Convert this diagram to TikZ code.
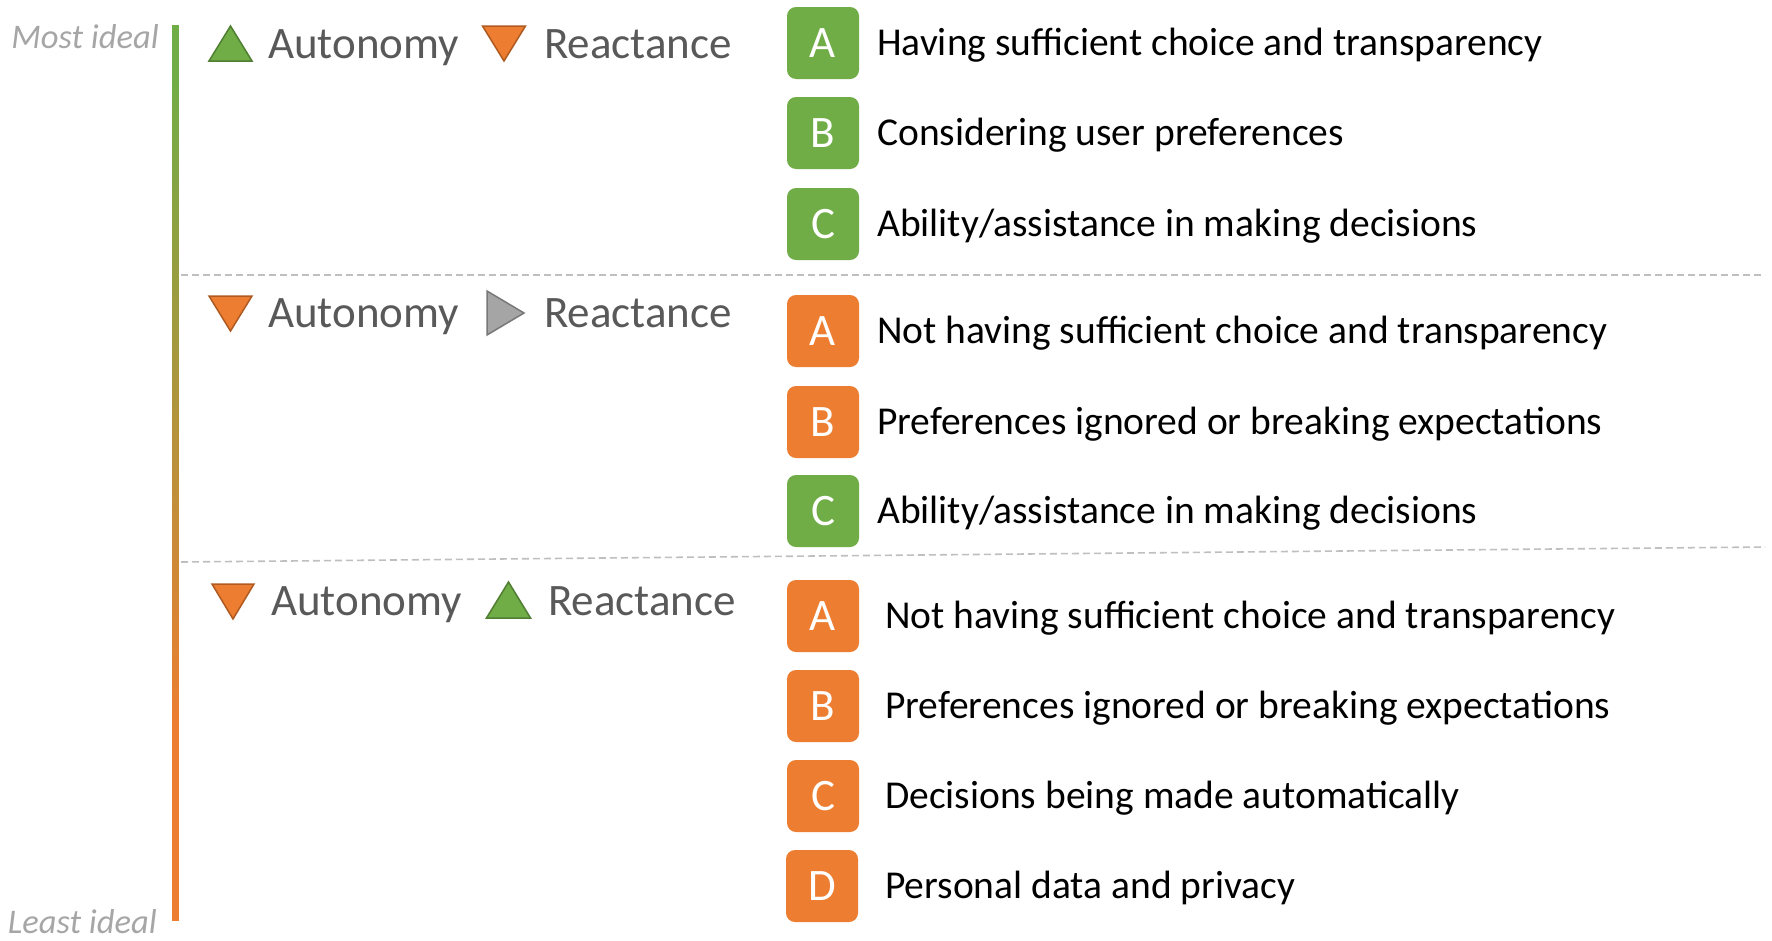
\documentclass[tikz,border=0pt]{standalone}
\usepackage{fontspec}
\setmainfont{Carlito}
\definecolor{cgreen}{HTML}{70AD47}
\definecolor{cgreenD}{HTML}{507E32}
\definecolor{corange}{HTML}{ED7D31}
\definecolor{corangeD}{HTML}{AE5A21}
\definecolor{cgray}{HTML}{A5A5A5}
\definecolor{cgrayD}{HTML}{787878}
\definecolor{chead}{HTML}{595959}
\definecolor{clabel}{HTML}{A6A6A6}
\definecolor{cdash}{HTML}{BFBFBF}
\begin{document}
\begin{tikzpicture}[x=1pt,y=-1pt,
  lbox/.style={rounded corners=9pt, minimum width=72pt, minimum height=72pt, inner sep=0pt,
    text=white, font=\fontsize{45}{54}\selectfont},
  gbox/.style={lbox, fill=cgreen},
  obox/.style={lbox, fill=corange},
  item/.style={anchor=base west, inner sep=0pt, font=\fontsize{39.5}{47}\selectfont, text=black},
  head/.style={anchor=base west, inner sep=0pt, font=\fontsize{45}{54}\selectfont, text=chead},
  ideal/.style={inner sep=0pt, font=\fontsize{34.5}{40}\selectfont\itshape, text=clabel},
  gtri/.style={fill=cgreen, draw=cgreenD, line width=1.5pt, line join=miter},
  otri/.style={fill=corange, draw=corangeD, line width=1.5pt, line join=miter},
  ytri/.style={fill=cgray, draw=cgrayD, line width=1.5pt, line join=miter},
  sep/.style={draw=cdash, line width=1.6pt, dash pattern=on 7pt off 4pt}
]
\useasboundingbox (0,0) rectangle (1772,940);
\fill[white] (0,0) rectangle (1772,940);

% vertical scale bar (green -> orange)
\fill[cgreen] (171.5,25) rectangle (178.5,71);
\foreach \i in {0,...,131} {
  \pgfmathsetmacro\p{100*\i/131}
  \fill[corange!\p!cgreen] (171.5,{70+5*\i}) rectangle (178.5,{76+5*\i});
}
\fill[corange] (171.5,724) rectangle (178.5,921);
\node[ideal, anchor=east] (most) at (159,37) {Most ideal};
\node[ideal, anchor=east] (least) at (157,922) {Least ideal};

% separators
\coordinate (s1a) at (181,275);
\coordinate (s1b) at (1765,275);
\coordinate (s2a) at (181,562);
\coordinate (s2b) at (1765,547);
\draw[sep] (s1a) -- (s1b);
\draw[sep] (s2a) -- (s2b);

% header row 1
\draw[gtri] (209,61) -- (230.5,26) -- (252,61) -- cycle;
\node[head] (h1a) at (268,58) {Autonomy};
\draw[otri] (482.5,26) -- (504,61) -- (525.5,26) -- cycle;
\node[head] (h1r) at (544,58) {Reactance};

% header row 2
\draw[otri] (209,296) -- (230.5,331) -- (252,296) -- cycle;
\node[head] (h2a) at (268,327) {Autonomy};
\draw[ytri] (487,291) -- (524,313) -- (487,335) -- cycle;
\node[head] (h2r) at (544,327) {Reactance};

% header row 3
\draw[otri] (212,584) -- (233,619) -- (254,584) -- cycle;
\node[head] (h3a) at (271,615) {Autonomy};
\draw[gtri] (486.5,618) -- (508.5,582) -- (530.5,618) -- cycle;
\node[head] (h3r) at (548,615) {Reactance};

% group 1
\node[gbox] (a1) at (823,43) {A};
\node[item] (ta1) at (877,55) {Having sufficient choice and transparency};
\node[gbox] (b1) at (823,133) {B};
\node[item] (tb1) at (877,145) {Considering user preferences};
\node[gbox] (c1) at (823,224) {C};
\node[item] (tc1) at (877,236) {Ability/assistance in making decisions};

% group 2
\node[obox] (a2) at (823,331) {A};
\node[item] (ta2) at (877,343) {Not having sufficient choice and transparency};
\node[obox] (b2) at (823,422) {B};
\node[item] (tb2) at (877,434) {Preferences ignored or breaking expectations};
\node[gbox] (c2) at (823,511) {C};
\node[item] (tc2) at (877,523) {Ability/assistance in making decisions};

% group 3
\node[obox] (a3) at (823,616) {A};
\node[item] (ta3) at (885,628) {Not having sufficient choice and transparency};
\node[obox] (b3) at (823,706) {B};
\node[item] (tb3) at (885,718) {Preferences ignored or breaking expectations};
\node[obox] (c3) at (823,796) {C};
\node[item] (tc3) at (885,808) {Decisions being made automatically};
\node[obox] (d3) at (822,886) {D};
\node[item] (td3) at (885,898) {Personal data and privacy};
\end{tikzpicture}
\end{document}
